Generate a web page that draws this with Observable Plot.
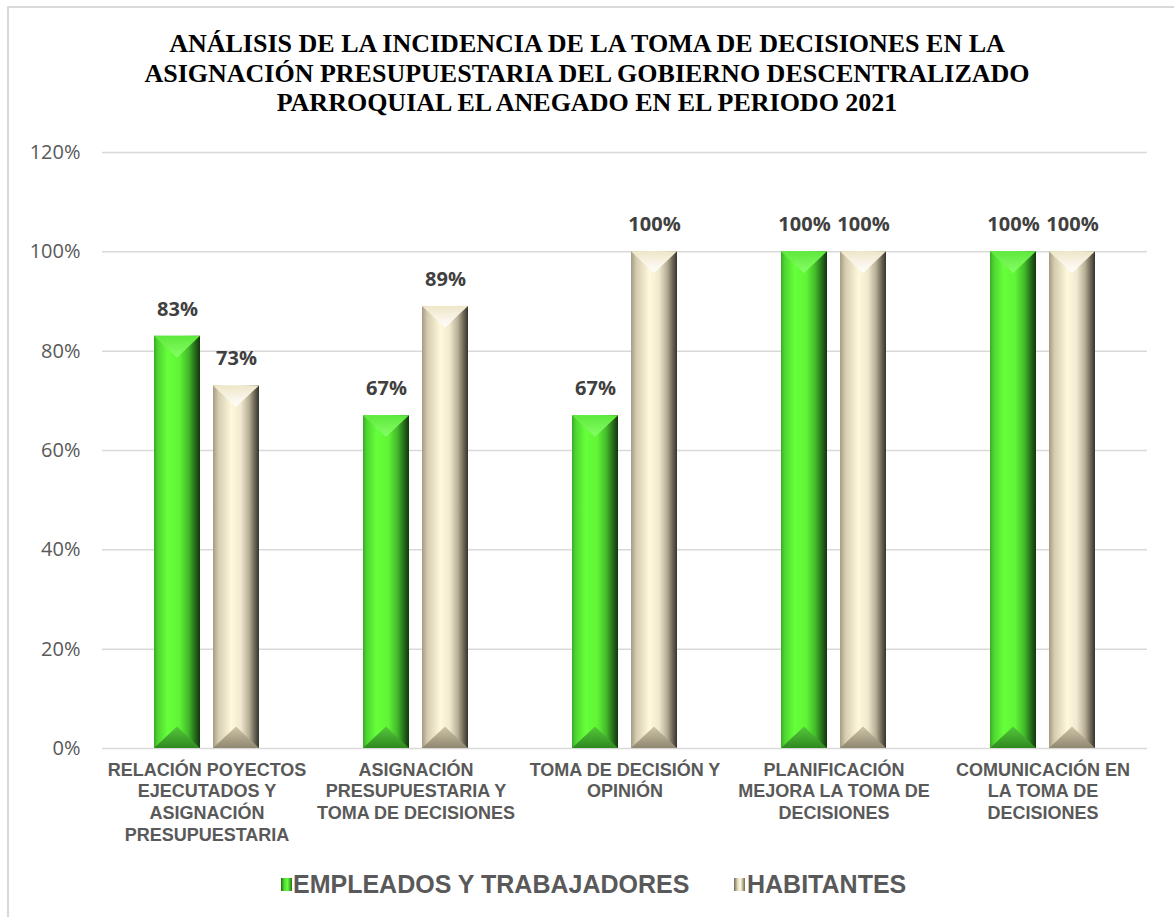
<!DOCTYPE html>
<html>
<head>
<meta charset="utf-8">
<script src="https://cdn.jsdelivr.net/npm/d3@7"></script>
<script src="https://cdn.jsdelivr.net/npm/@observablehq/plot@0.6"></script>
<style>
  html, body { margin: 0; padding: 0; background: #fff; }
  #wrap { position: relative; width: 1174px; height: 917px; overflow: hidden; background: #fff; }
  #frame { position: absolute; left: 7px; top: 6px; width: 1180px; height: 930px; border: 2px solid #d9d9d9; box-sizing: border-box; }
  #title { position: absolute; left: 0; top: 29px; width: 1174px; text-align: center;
    font-family: "Liberation Serif", "Times New Roman", serif; font-weight: bold; font-size: 26px; line-height: 29.5px; color: #000; }
  #chart { position: absolute; left: 0; top: 125px; }
  .leg { position: absolute; top: 870px; height: 28px; line-height: 28px; font-family: "Liberation Sans", Arial, sans-serif;
    font-weight: bold; font-size: 25px; color: #595959; white-space: nowrap; }
  .mk { position: absolute; top: 878px; width: 11px; height: 13px; }
</style>
</head>
<body>
<div id="wrap">
  <div id="frame"></div>
  <div id="title">ANÁLISIS DE LA INCIDENCIA DE LA TOMA DE DECISIONES EN LA<br>ASIGNACIÓN PRESUPUESTARIA DEL GOBIERNO DESCENTRALIZADO<br>PARROQUIAL EL ANEGADO EN EL PERIODO 2021</div>
  <div id="chart"></div>
  <div id="legend"></div>
</div>
<script>
// ---- data ----
const categories = [
  "RELACIÓN POYECTOS EJECUTADOS Y ASIGNACIÓN PRESUPUESTARIA",
  "ASIGNACIÓN PRESUPUESTARIA Y TOMA DE DECISIONES",
  "TOMA DE DECISIÓN Y OPINIÓN",
  "PLANIFICACIÓN MEJORA LA TOMA DE DECISIONES",
  "COMUNICACIÓN EN LA TOMA DE DECISIONES"
];
const categoryLabels = [
  "RELACIÓN POYECTOS\nEJECUTADOS Y\nASIGNACIÓN\nPRESUPUESTARIA",
  "ASIGNACIÓN\nPRESUPUESTARIA Y\nTOMA DE DECISIONES",
  "TOMA DE DECISIÓN Y\nOPINIÓN",
  "PLANIFICACIÓN\nMEJORA LA TOMA DE\nDECISIONES",
  "COMUNICACIÓN EN\nLA TOMA DE\nDECISIONES"
];
const series = ["EMPLEADOS Y TRABAJADORES", "HABITANTES"];
const empleados = [83, 67, 67, 100, 100];
const habitantes = [73, 89, 100, 100, 100];
const yTicks = [0, 20, 40, 60, 80, 100, 120];

const data = categories.flatMap((c, i) => [
  {cat: c, series: series[0], value: empleados[i]},
  {cat: c, series: series[1], value: habitantes[i]}
]);

const labelOf = new Map(categories.map((c, i) => [c, categoryLabels[i]]));

const chart = Plot.plot({
  width: 1174,
  height: 730,
  marginLeft: 100,
  marginRight: 26,
  marginTop: 27,
  marginBottom: 107,
  style: {background: "transparent", overflow: "visible"},
  fx: {domain: categories, padding: 0, label: null},
  x: {domain: series, paddingInner: 0.2167, paddingOuter: 0.855, axis: null},
  y: {domain: [0, 120], label: null},
  marks: [
    Plot.ruleY(yTicks, {stroke: "#d9d9d9", strokeWidth: 1.5}),
    Plot.axisY(yTicks, {
      tickSize: 0, tickPadding: 22, tickFormat: d => d + "%",
      fontSize: 20, fill: "#595959", fontFamily: "Open Sans", label: null
    }),
    Plot.axisFx({
      anchor: "bottom", tickSize: 0, tickPadding: 12,
      tickFormat: d => labelOf.get(d),
      fontSize: 18, lineHeight: 1.2, fontWeight: "bold", fill: "#595959",
      fontFamily: "Liberation Sans, Arial, sans-serif", label: null
    }),
    Plot.barY(data.filter(d => d.series === series[0]), {fx: "cat", x: "series", y: "value", fill: "url(#gradGreen)"}),
    Plot.barY(data.filter(d => d.series === series[1]), {fx: "cat", x: "series", y: "value", fill: "url(#gradBeige)"}),
    Plot.text(data, {
      fx: "cat", x: "series", y: "value", text: d => d.value + "%", dy: -27,
      fontSize: 20, fontWeight: "bold", fill: "#404040", fontFamily: "Open Sans"
    })
  ]
});

// gradients for the bevelled bars
const defs = `
<defs>
  <linearGradient id="gradGreen" x1="0" x2="1" y1="0" y2="0">
    <stop offset="0" stop-color="#3aa826"/>
    <stop offset="0.08" stop-color="#4fd632"/>
    <stop offset="0.3" stop-color="#66ff3a"/>
    <stop offset="0.55" stop-color="#60f536"/>
    <stop offset="0.75" stop-color="#42b82a"/>
    <stop offset="0.9" stop-color="#24681a"/>
    <stop offset="1" stop-color="#12340c"/>
  </linearGradient>
  <linearGradient id="gradBeige" x1="0" x2="1" y1="0" y2="0">
    <stop offset="0" stop-color="#a39b84"/>
    <stop offset="0.12" stop-color="#d6cdb0"/>
    <stop offset="0.4" stop-color="#fff8dc"/>
    <stop offset="0.6" stop-color="#f2ead0"/>
    <stop offset="0.78" stop-color="#b8b096"/>
    <stop offset="0.9" stop-color="#6f6958"/>
    <stop offset="1" stop-color="#35332b"/>
  </linearGradient>
  <linearGradient id="topGreen" x1="0" x2="0" y1="0" y2="1">
    <stop offset="0" stop-color="#5ee83c"/>
    <stop offset="1" stop-color="#86ff66"/>
  </linearGradient>
  <linearGradient id="topBeige" x1="0" x2="0" y1="0" y2="1">
    <stop offset="0" stop-color="#efe6c8"/>
    <stop offset="1" stop-color="#ffffff"/>
  </linearGradient>
  <linearGradient id="botGreen" x1="0" x2="0" y1="0" y2="1">
    <stop offset="0" stop-color="#55c83a"/>
    <stop offset="1" stop-color="#2f8a20"/>
  </linearGradient>
  <linearGradient id="botBeige" x1="0" x2="0" y1="0" y2="1">
    <stop offset="0" stop-color="#cfc6a8"/>
    <stop offset="1" stop-color="#8f8770"/>
  </linearGradient>
</defs>`;
chart.insertAdjacentHTML("afterbegin", defs);

// bevel triangles on top / bottom of every bar
const ns = "http://www.w3.org/2000/svg";
function inheritedFill(el) {
  while (el && el.getAttribute) {
    const f = el.getAttribute("fill");
    if (f) return f;
    el = el.parentNode;
  }
  return "";
}
chart.querySelectorAll("rect").forEach(r => {
  const f = inheritedFill(r);
  if (!f.includes("grad")) return;
  const isGreen = f.includes("Green");
  const x = +r.getAttribute("x"), y = +r.getAttribute("y");
  const w = +r.getAttribute("width"), h = +r.getAttribute("height");
  const d = w * 0.47;
  const top = document.createElementNS(ns, "polygon");
  top.setAttribute("points", `${x},${y} ${x + w},${y} ${x + w / 2},${y + d}`);
  top.setAttribute("fill", isGreen ? "url(#topGreen)" : "url(#topBeige)");
  const bot = document.createElementNS(ns, "polygon");
  bot.setAttribute("points", `${x},${y + h} ${x + w},${y + h} ${x + w / 2},${y + h - d}`);
  bot.setAttribute("fill", isGreen ? "url(#botGreen)" : "url(#botBeige)");
  r.parentNode.appendChild(top);
  r.parentNode.appendChild(bot);
});

document.getElementById("chart").appendChild(chart);

// legend (HTML, below chart)
const legend = document.getElementById("legend");
const legendItems = [
  {name: series[0], mk: 281, tx: 293,
   bg: "linear-gradient(90deg,#1f6a14 0%,#52dc34 30%,#66ff3a 60%,#26701a 100%)"},
  {name: series[1], mk: 734, tx: 747,
   bg: "linear-gradient(90deg,#6f6958 0%,#e8dfc2 35%,#fff8dc 60%,#6f6958 100%)"}
];
legendItems.forEach(it => {
  const m = document.createElement("div");
  m.className = "mk"; m.style.left = it.mk + "px"; m.style.background = it.bg;
  legend.appendChild(m);
  const t = document.createElement("div");
  t.className = "leg"; t.style.left = it.tx + "px"; t.textContent = it.name;
  legend.appendChild(t);
});
</script>
</body>
</html>
